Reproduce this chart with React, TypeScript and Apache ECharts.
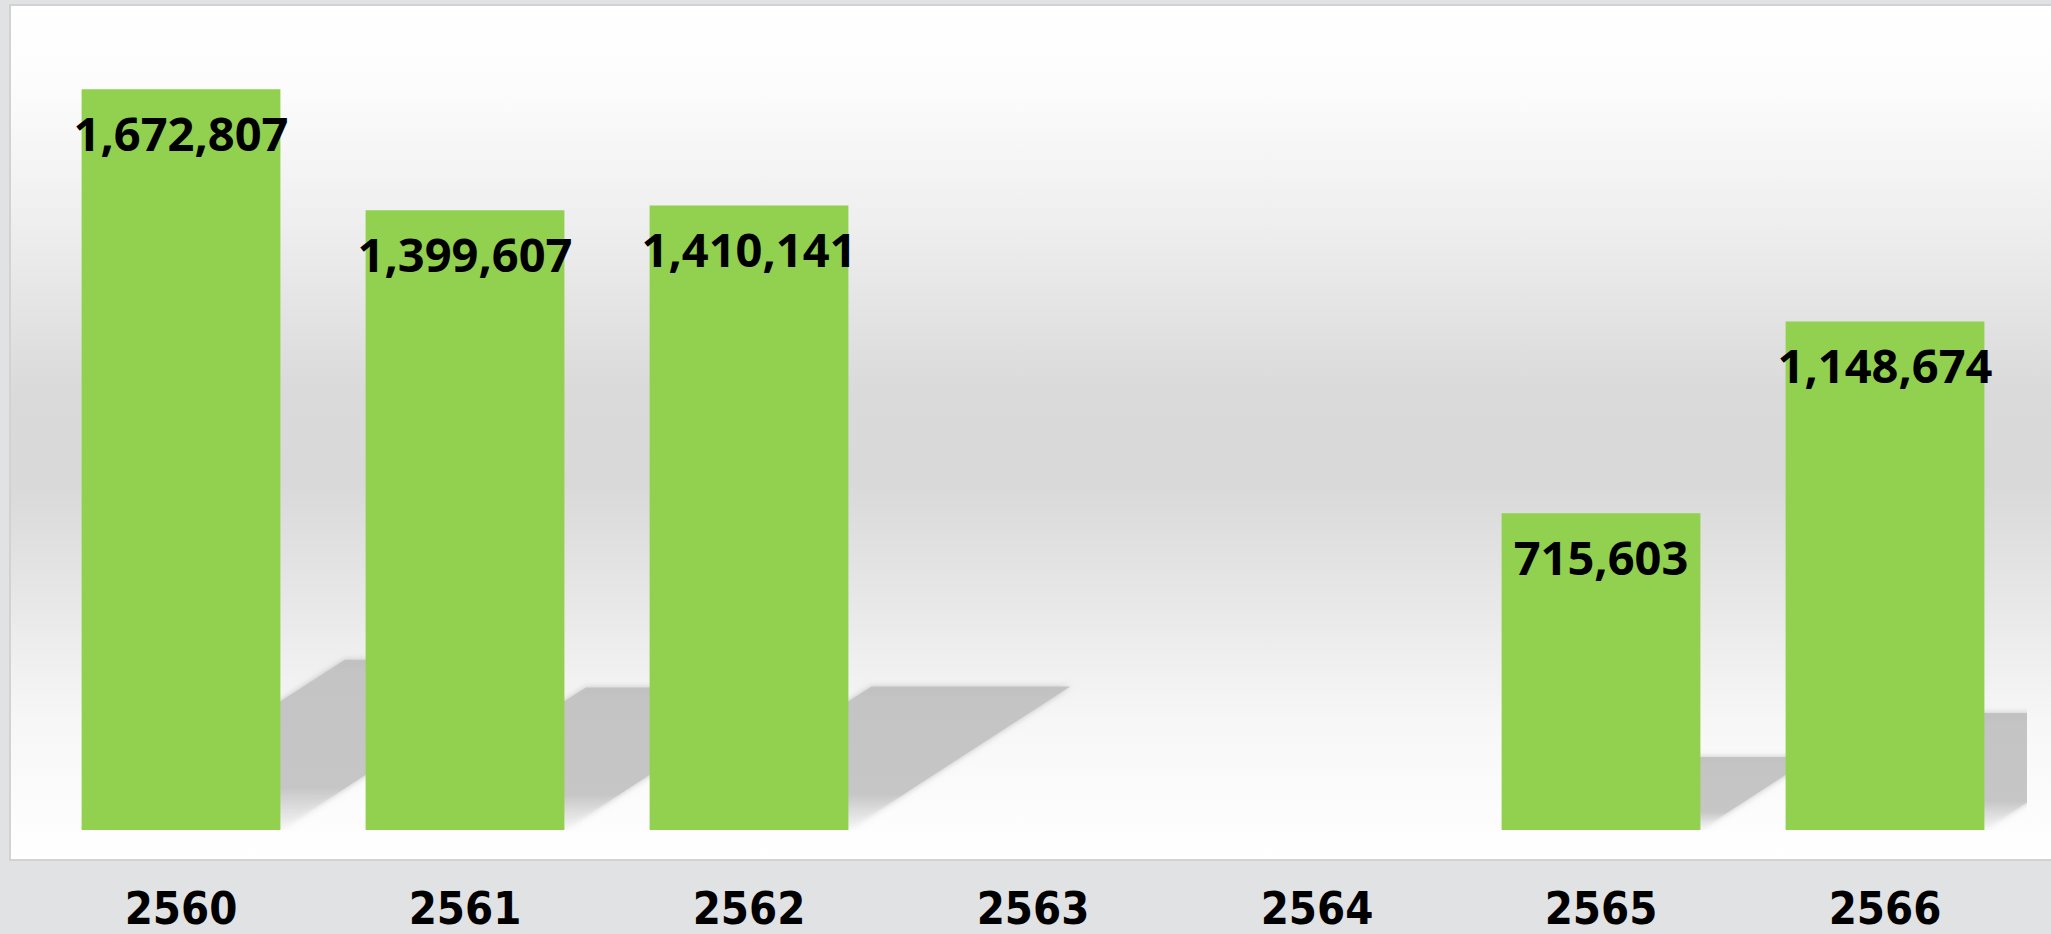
import React, { useEffect, useRef } from "react";
import * as echarts from "echarts";

const categories = ["2560", "2561", "2562", "2563", "2564", "2565", "2566"];
const values: (number | null)[] = [1672807, 1399607, 1410141, null, null, 715603, 1148674];
const shadowRatio = 0.23;
const shadowShear = 1.545;
const barFraction = 0.7;

export default function App() {
  const ref = useRef<HTMLDivElement>(null);

  useEffect(() => {
    if (!ref.current) return;
    const chart = echarts.init(ref.current, undefined, { renderer: "svg" });

    const shadowData = values.map((v, i) => [i, v == null ? null : v]);

    const option: any = {
      animation: false,
      backgroundColor: "#e0e2e4",
      graphic: [
        {
          type: "rect",
          z: -10,
          silent: true,
          shape: { x: 10, y: 5, width: 2060, height: 855 },
          style: {
            stroke: "#d2d2d2",
            lineWidth: 2,
            fill: new echarts.graphic.LinearGradient(0, 0, 0, 1, [
              { offset: 0, color: "#ffffff" },
              { offset: 0.1, color: "#fcfcfc" },
              { offset: 0.28, color: "#ececec" },
              { offset: 0.45, color: "#dadada" },
              { offset: 0.56, color: "#d9d9d9" },
              { offset: 0.7, color: "#e8e8e8" },
              { offset: 0.84, color: "#f7f7f7" },
              { offset: 1, color: "#ffffff" },
            ]),
          },
        },
      ],
      grid: { left: 39, right: 24, top: 33, bottom: 104, containLabel: false },
      xAxis: {
        type: "category",
        data: categories,
        axisLine: { show: false },
        axisTick: { show: false },
        axisLabel: {
          margin: 57,
          lineHeight: 42,
          color: "#000000",
          fontFamily: "'DejaVu Sans Condensed', 'DejaVu Sans', sans-serif",
          fontWeight: "bold",
          fontSize: 45,
        },
      },
      yAxis: {
        type: "value",
        min: 0,
        max: 1800000,
        show: false,
        splitLine: { show: false },
      },
      series: [
        {
          type: "custom",
          clip: true,
          z: 1,
          silent: true,
          data: shadowData,
          encode: { x: 0, y: 1 },
          renderItem: (params: any, api: any) => {
            const v = api.value(1);
            if (v == null || isNaN(v)) return null;
            const i = api.value(0);
            const base = api.coord([i, 0]);
            const top = api.coord([i, v * shadowRatio]);
            const band = api.size([1, 0])[0];
            const w = band * barFraction;
            const L = base[0] - w / 2;
            const R = base[0] + w / 2;
            const h = base[1] - top[1];
            const dx = h * shadowShear;
            return {
              type: "polygon",
              shape: {
                points: [
                  [L, base[1]],
                  [R, base[1]],
                  [R + dx, top[1]],
                  [L + dx, top[1]],
                ],
              },
              style: {
                fill: new echarts.graphic.LinearGradient(0, 0, 0, 1, [
                  { offset: 0, color: "rgba(190,190,190,0.85)" },
                  { offset: 0.08, color: "#c4c4c4" },
                  { offset: 0.75, color: "#c6c6c6" },
                  { offset: 1, color: "rgba(250,250,250,0.2)" },
                ]),
                shadowBlur: 6,
                shadowColor: "rgba(180,180,180,0.8)",
              },
            };
          },
        },
        {
          type: "bar",
          z: 3,
          data: values.map((v) => (v == null ? "-" : v)),
          barWidth: "70%",
          itemStyle: { color: "#92d050" },
          label: {
            show: true,
            position: "insideTop",
            distance: 20,
            color: "#000000",
            fontFamily: "'Open Sans', sans-serif",
            fontWeight: "bold",
            fontSize: 47,
            formatter: (p: any) => Number(p.value).toLocaleString("en-US"),
          },
        },
      ],
    };

    chart.setOption(option);
    return () => chart.dispose();
  }, []);

  return (
    <div
      ref={ref}
      style={{ position: "absolute", left: 0, top: 0, width: 2051, height: 934 }}
    />
  );
}
